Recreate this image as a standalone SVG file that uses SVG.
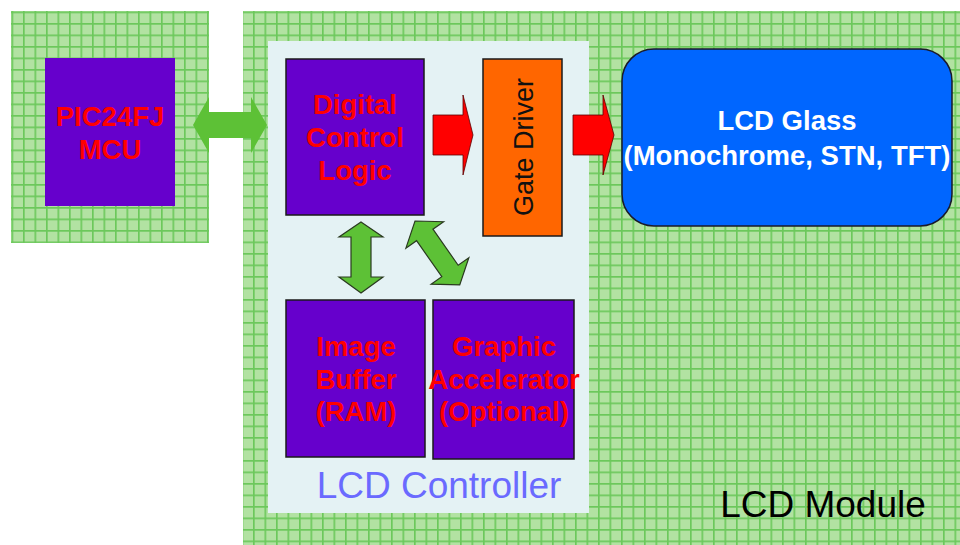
<svg xmlns="http://www.w3.org/2000/svg" width="960" height="545" viewBox="0 0 960 545">
  <defs>
    <pattern id="grid" patternUnits="userSpaceOnUse" x="0" y="0" width="11.5" height="11.5">
      <rect width="11.5" height="11.5" fill="#b2e2a2"/>
      <path d="M0 0.75H11.5M0.75 0V11.5" stroke="#6cc85b" stroke-width="1.8" fill="none"/>
    </pattern>
    <style>
      .block { fill: #6600cc; stroke: #1a1a1a; stroke-width: 1.5; }
      .btxt { font-family: "Liberation Sans", Arial, sans-serif; font-weight: bold; font-size: 27.5px; fill: #ff0000; text-anchor: middle; }
      .wtxt { font-family: "Liberation Sans", Arial, sans-serif; font-weight: bold; font-size: 27.5px; fill: #ffffff; text-anchor: middle; }
      .rtxt { font-family: "Liberation Sans", Arial, sans-serif; text-anchor: middle; }
      .garrow { fill: #5dc136; stroke: #2a3a20; stroke-width: 1.2; stroke-linejoin: miter; }
      .rarrow { fill: #ff0000; stroke: #5a0000; stroke-width: 0.8; }
    </style>
  </defs>

  <!-- background areas -->
  <rect width="960" height="545" fill="#ffffff"/>
  <rect id="mcu-area" x="11" y="11" width="198" height="232" fill="url(#grid)"/>
  <rect id="module-area" x="243" y="11" width="717" height="534" fill="url(#grid)"/>
  <rect id="controller-area" x="268" y="41" width="321" height="472" fill="#e4f2f4"/>

  <!-- nodes -->
  <g id="mcu">
    <rect x="45" y="58" width="130" height="148" fill="#6600cc"/>
    <text class="btxt" x="110" y="126" font-size="28px">PIC24FJ</text>
    <text class="btxt" x="110" y="159" font-size="28px">MCU</text>
  </g>

  <g id="digital-control-logic">
    <rect class="block" x="286" y="59" width="138" height="156"/>
    <text class="btxt" x="355" y="114">Digital</text>
    <text class="btxt" x="355" y="147">Control</text>
    <text class="btxt" x="355" y="180">Logic</text>
  </g>

  <g id="gate-driver">
    <rect x="483" y="59" width="79" height="177" fill="#ff6600" stroke="#1a1a1a" stroke-width="1.5"/>
    <text class="rtxt" font-size="27px" fill="#111" transform="translate(533,147) rotate(-90)">Gate Driver</text>
  </g>

  <g id="lcd-glass">
    <rect x="622" y="49" width="330" height="177" rx="32" ry="32" fill="#0066ff" stroke="#1a1a2a" stroke-width="1.5"/>
    <text class="wtxt" x="787" y="130">LCD Glass</text>
    <text class="wtxt" x="787" y="165">(Monochrome, STN, TFT)</text>
  </g>

  <g id="image-buffer">
    <rect class="block" x="286" y="300" width="139" height="157"/>
    <text class="btxt" x="356" y="356">Image</text>
    <text class="btxt" x="356" y="389">Buffer</text>
    <text class="btxt" x="356" y="421">(RAM)</text>
  </g>

  <g id="graphic-accelerator">
    <rect class="block" x="433" y="300" width="141" height="159"/>
    <text class="btxt" x="504" y="356">Graphic</text>
    <text class="btxt" x="504" y="389">Accelerator</text>
    <text class="btxt" x="504" y="421">(Optional)</text>
  </g>

  <g id="labels">
    <text class="rtxt" x="439" y="498" font-size="37px" fill="#6a6aff">LCD Controller</text>
    <text class="rtxt" x="823" y="517" font-size="37px" fill="#000000">LCD Module</text>
  </g>

  <!-- connectors -->
  <g id="connectors">
    <polygon fill="#5dc136" points="193,125 209,97 209,112 251,112 251,97 267,125 251,153 251,138 209,138 209,153"/>
    <polygon class="rarrow" points="433,115 463,115 463,95 473,135 463,175 463,155 433,155"/>
    <polygon class="rarrow" points="573,115 603,115 603,95 614,135 603,175 603,155 573,155"/>
    <polygon class="garrow" points="361,222 383,237 371,237 371,277 383,277 361,293 339,277 351,277 351,237 339,237"/>
    <polygon class="garrow" transform="translate(415,221) rotate(55)" points="0,0 17,-23 17,-10 61,-10 61,-23 78,0 61,23 61,10 17,10 17,23"/>
  </g>
</svg>
